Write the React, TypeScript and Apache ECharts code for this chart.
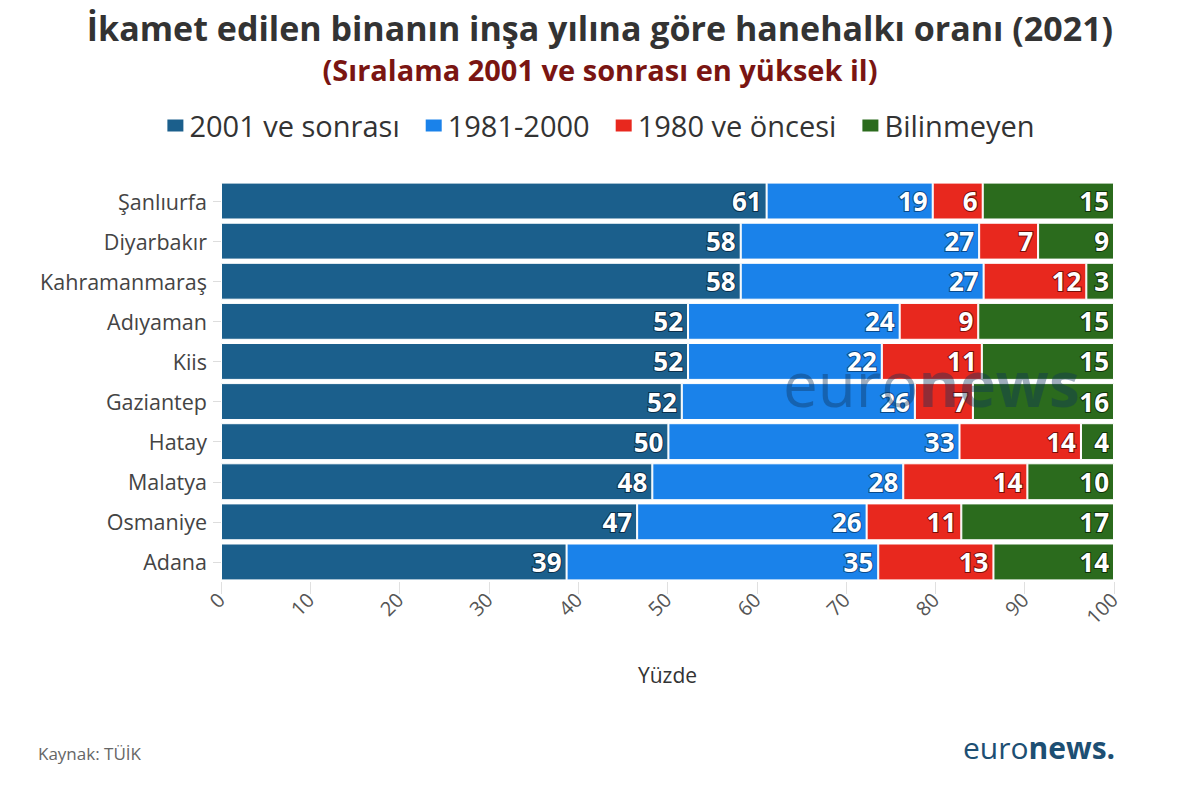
import React, { useEffect, useRef } from "react";
import * as echarts from "echarts";

const provinces = ["Şanlıurfa", "Diyarbakır", "Kahramanmaraş", "Adıyaman", "Kiis", "Gaziantep", "Hatay", "Malatya", "Osmaniye", "Adana"];
const seriesNames = ["2001 ve sonrası", "1981-2000", "1980 ve öncesi", "Bilinmeyen"];
const since2001 = [61.1, 58.2, 58.2, 52.3, 52.3, 51.6, 50.1, 48.3, 46.6, 38.7];
const from1981to2000 = [18.6, 26.7, 27.2, 23.7, 21.7, 26.1, 32.6, 28.1, 25.7, 34.9];
const before1980 = [5.6, 6.6, 11.5, 8.8, 11.2, 6.5, 13.6, 13.9, 10.6, 12.9];
const unknown = [14.7, 8.5, 3.1, 15.2, 14.8, 15.8, 3.7, 9.7, 17.1, 13.5];
const xTicks = [0, 10, 20, 30, 40, 50, 60, 70, 80, 90, 100];
const colors = ["#1b5f8c", "#1a82ea", "#e8281e", "#2b6b1d"];
const shadowColors = ["#0b2f4a", "#0b4a8a", "#7a0e08", "#0f3308"];

const FONT = "'Open Sans', 'Noto Sans', sans-serif";

export default function App() {
  const ref = useRef<HTMLDivElement>(null);
  useEffect(() => {
    document.body.style.margin = "0";
    const chart = echarts.init(ref.current!, null, { renderer: "svg" });
    const dataSets = [since2001, from1981to2000, before1980, unknown];
    chart.setOption({
      animation: false,
      backgroundColor: "#ffffff",
      textStyle: { fontFamily: FONT },
      title: [
        {
          text: "İkamet edilen binanın inşa yılına göre hanehalkı oranı (2021)",
          left: "center",
          top: 6,
          textStyle: { fontSize: 34, fontWeight: "bold", color: "#333333", fontFamily: FONT },
        },
        {
          text: "(Sıralama 2001 ve sonrası en yüksek il)",
          left: "center",
          top: 50,
          textStyle: { fontSize: 29, fontWeight: "bold", color: "#7a1512", fontFamily: FONT },
        },
      ],
      legend: {
        data: seriesNames,
        top: 106,
        left: "center",
        itemWidth: 18,
        itemHeight: 14,
        itemGap: 24,
        icon: "rect",
        textStyle: { fontSize: 29, color: "#333333", fontFamily: FONT },
      },
      grid: { left: 221, right: 86, top: 181, bottom: 219, containLabel: false },
      xAxis: {
        type: "value",
        min: 0,
        max: 100,
        interval: 10,
        name: "Yüzde",
        nameLocation: "middle",
        nameGap: 82,
        nameTextStyle: { fontSize: 21, color: "#333333", fontFamily: FONT },
        axisLine: { show: false },
        axisTick: { show: true, length: 12, lineStyle: { color: "#e0e0e0" } },
        splitLine: { show: false },
        axisLabel: {
          rotate: 45,
          fontSize: 20,
          color: "#555555",
          margin: 14,
          formatter: (v: number) => (xTicks.includes(v) ? String(v) : ""),
        },
      },
      yAxis: {
        type: "category",
        data: provinces,
        inverse: true,
        axisLine: { show: false },
        axisTick: { show: true, length: 8, lineStyle: { color: "#dddddd" }, alignWithLabel: true },
        axisLabel: { fontSize: 21.5, color: "#444444", margin: 14, fontFamily: FONT },
      },
      series: seriesNames.map((name, i) => ({
        name,
        type: "bar",
        stack: "total",
        barCategoryGap: "8%",
        data: dataSets[i],
        itemStyle: { color: colors[i], borderColor: "#ffffff", borderWidth: 1 },
        label: {
          show: true,
          position: "insideRight",
          distance: 5,
          formatter: (p: any) => String(Math.round(p.value)),
          fontSize: 26,
          fontWeight: "bold",
          color: "#ffffff",
          fontFamily: FONT,
          textBorderColor: shadowColors[i],
          textBorderWidth: 2,
        },
      })),
      graphic: [
        {
          type: "text",
          left: 783,
          top: 352,
          silent: true,
          z: 100,
          style: {
            text: "{a|euro}{b|news}",
            rich: {
              a: { fontSize: 62, fontWeight: "normal", fill: "rgba(15,50,90,0.4)", fontFamily: FONT },
              b: { fontSize: 62, fontWeight: "bold", fill: "rgba(15,50,90,0.4)", fontFamily: FONT },
            },
          },
        },
        {
          type: "text",
          left: 38,
          top: 745,
          style: { text: "Kaynak: TÜİK", fontSize: 17, fill: "#666666", fontFamily: FONT },
        },
        {
          type: "text",
          left: 963,
          top: 732,
          style: {
            text: "{a|euro}{b|news.}",
            rich: {
              a: { fontSize: 30, fontWeight: "normal", fill: "#1d4f73", fontFamily: FONT },
              b: { fontSize: 30, fontWeight: "bold", fill: "#1d4f73", fontFamily: FONT },
            },
          },
        },
      ],
    });
    return () => chart.dispose();
  }, []);
  return <div ref={ref} style={{ width: 1200, height: 801 }} />;
}
